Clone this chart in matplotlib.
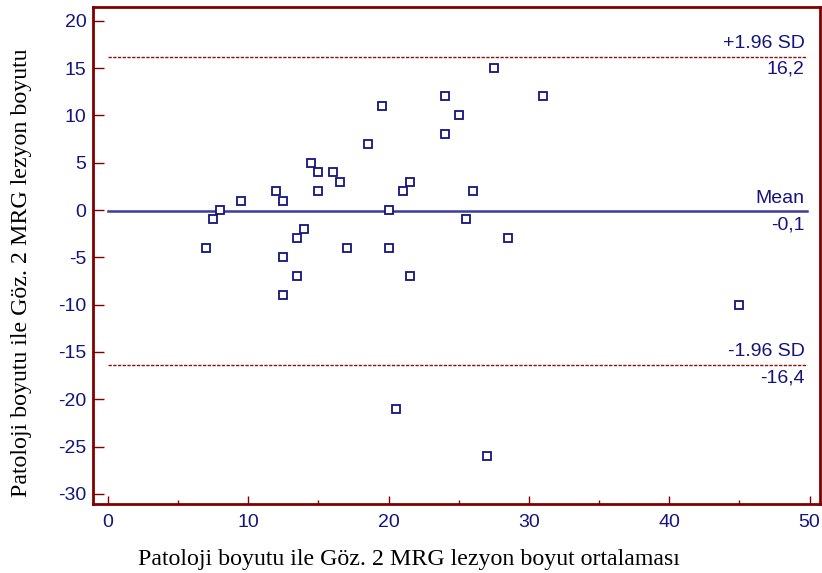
import numpy as np
import matplotlib.pyplot as plt
from matplotlib.ticker import MultipleLocator

plt.rcParams['axes.unicode_minus'] = False

# Bland-Altman data: mean of the two measurements vs. difference
mean_size = [7, 7.5, 8, 9.5, 12, 12.5, 12.5, 12.5, 13.5, 13.5, 14, 14.5, 15, 15,
             16, 16.5, 17, 18.5, 19.5, 20, 20, 20.5, 21, 21.5, 21.5, 24, 24, 25,
             25.5, 26, 27, 27.5, 28.5, 31, 45]
diff_size = [-4, -1, 0, 1, 2, 1, -5, -9, -3, -7, -2, 5, 4, 2,
             4, 3, -4, 7, 11, 0, -4, -21, 2, 3, -7, 12, 8, 10,
             -1, 2, -26, 15, -3, 12, -10]

mean_diff = -0.1
upper_loa = 16.2
lower_loa = -16.4

x_ticks = [0, 10, 20, 30, 40, 50]
y_ticks = [20, 15, 10, 5, 0, -5, -10, -15, -20, -25, -30]

maroon = '#800000'
navy = '#14147f'

fig = plt.figure(figsize=(8.22, 5.73), dpi=100)
ax = fig.add_axes([0.1135, 0.1204, 0.8841, 0.8679])

ax.plot(mean_size, diff_size, linestyle='none', marker='s', markersize=6,
        markerfacecolor='white', markeredgecolor=navy, markeredgewidth=1.3, zorder=3)

line_x = [0, 49.8]
ax.plot(line_x, [mean_diff, mean_diff], color='#3b3b9e', lw=1.8, zorder=2)
for lv in (upper_loa, lower_loa):
    ax.plot(line_x, [lv, lv], color='#8b1010', lw=1.0, linestyle=(0, (2.4, 1.0)), zorder=2)

# labels on the reference lines
lab_kw = dict(ha='right', fontsize=14, color=navy, family='Liberation Sans',
              textcoords='offset points')
ax.annotate('+1.96 SD', (49.65, upper_loa), xytext=(0, 6.5), va='baseline', **lab_kw)
ax.annotate('16,2', (49.65, upper_loa), xytext=(0, -3), va='top', **lab_kw)
ax.annotate('Mean', (49.65, mean_diff), xytext=(0, 6), va='baseline', **lab_kw)
ax.annotate('-0,1', (49.65, mean_diff), xytext=(0, -4), va='top', **lab_kw)
ax.annotate('-1.96 SD', (49.65, lower_loa), xytext=(0, 6.5), va='baseline', **lab_kw)
ax.annotate('-16,4', (49.65, lower_loa), xytext=(0, -3), va='top', **lab_kw)

ax.set_xlim(-1.05, 50.75)
ax.set_ylim(-31.06, 21.48)
ax.set_xticks(x_ticks)
ax.set_yticks(y_ticks)
ax.xaxis.set_minor_locator(MultipleLocator(5))

for sp in ax.spines.values():
    sp.set_color(maroon)
    sp.set_linewidth(2)

ax.tick_params(axis='both', which='both', direction='in', color=maroon,
               labelcolor=navy, labelsize=14, width=1)
ax.tick_params(axis='y', which='major', length=8, pad=5)
ax.tick_params(axis='x', which='major', length=6, pad=7)
ax.tick_params(axis='x', which='minor', length=3)
for lbl in ax.get_xticklabels() + ax.get_yticklabels():
    lbl.set_family('Liberation Sans')

fig.text(409 / 822, 1 - 565 / 573, 'Patoloji boyutu ile Göz. 2 MRG lezyon boyut ortalaması',
         ha='center', va='baseline', fontsize=17.2, family='Liberation Serif', color='black')
fig.text(27.5 / 822, 1 - 273 / 573, 'Patoloji boyutu ile Göz. 2 MRG lezyon boyutu',
         ha='center', va='baseline', rotation=90, rotation_mode='anchor',
         fontsize=17.2, family='Liberation Serif', color='black')

fig.savefig('out.png', dpi=100)
